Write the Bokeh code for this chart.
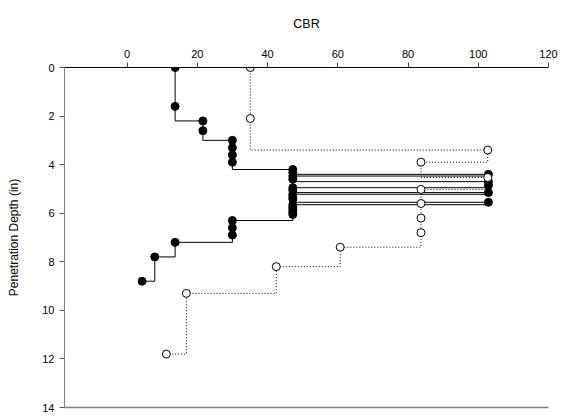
from bokeh.plotting import figure
from bokeh.models import Range1d, LinearAxis, FixedTicker
from bokeh.embed import file_html
from bokeh.resources import INLINE

# Solid series (filled markers): CBR vs penetration depth
cbr_solid = [13.7, 13.7, 21.6, 21.6, 30, 30, 30, 30, 47.2, 47.2, 102.9, 47.2, 47.2,
             102.9, 102.9, 47.2, 47.2, 102.9, 47.2, 47.2, 47.2, 102.9, 47.2, 47.2,
             47.2, 47.2, 47.2, 30, 30, 30, 13.7, 7.9, 4.3]
depth_solid = [0, 1.6, 2.2, 2.6, 3.0, 3.3, 3.6, 3.9, 4.2, 4.32, 4.4, 4.47, 4.6,
               4.7, 4.85, 4.95, 5.05, 5.15, 5.22, 5.32, 5.42, 5.55, 5.65, 5.75,
               5.85, 5.95, 6.05, 6.3, 6.6, 6.9, 7.2, 7.8, 8.8]

# Dotted series (open markers)
cbr_open = [35.1, 35.1, 102.7, 83.7, 102.7, 83.7, 83.7, 83.7, 83.7, 60.7, 42.5, 16.9, 11.2]
depth_open = [0, 2.1, 3.4, 3.9, 4.53, 5.02, 5.6, 6.2, 6.8, 7.4, 8.2, 9.3, 11.8]

x_ticks = [0, 20, 40, 60, 80, 100, 120]
y_ticks = [0, 2, 4, 6, 8, 10, 12, 14]


def step_path(xs, ys):
    px, py = [xs[0]], [ys[0]]
    for i in range(len(xs) - 1):
        px += [xs[i], xs[i + 1]]
        py += [ys[i + 1], ys[i + 1]]
    return px, py


FONT = "Liberation Sans"

p = figure(width=562, height=419, output_backend="svg", toolbar_location=None,
           x_axis_location="above",
           x_range=Range1d(-17.8, 120), y_range=Range1d(14, 0),
           min_border_left=64, min_border_right=14, min_border_top=67,
           min_border_bottom=12)
p.xgrid.visible = False
p.ygrid.visible = False
p.outline_line_color = None
p.background_fill_color = "white"
p.border_fill_color = "white"

# top axis
xa = p.xaxis[0]
xa.ticker = FixedTicker(ticks=x_ticks)
xa.axis_label = "CBR"
xa.axis_label_text_font = FONT
xa.axis_label_text_font_size = "12.5px"
xa.axis_label_text_font_style = "normal"
xa.axis_label_text_color = "black"
xa.axis_label_standoff = 16
xa.major_label_text_font = FONT
xa.major_label_text_font_size = "11px"
xa.major_label_text_color = "black"
xa.major_label_standoff = 5
xa.major_tick_in = 0
xa.major_tick_out = 5
xa.minor_tick_line_color = None
xa.axis_line_color = "black"
xa.major_tick_line_color = "#444444"

# left axis
ya = p.yaxis[0]
ya.ticker = FixedTicker(ticks=y_ticks)
ya.axis_label = "Penetration Depth (in)"
ya.axis_label_text_font = FONT
ya.axis_label_text_font_size = "12px"
ya.axis_label_text_font_style = "normal"
ya.axis_label_text_color = "black"
ya.axis_label_standoff = 18
ya.major_label_text_font = FONT
ya.major_label_text_font_size = "11px"
ya.major_label_text_color = "black"
ya.major_label_standoff = 5
ya.major_tick_in = 0
ya.major_tick_out = 5
ya.minor_tick_line_color = None
ya.axis_line_color = "#7f7f7f"
ya.major_tick_line_color = "#555555"

# bottom line
bax = LinearAxis(ticker=FixedTicker(ticks=[]), major_label_text_color=None,
                 major_tick_line_color=None, minor_tick_line_color=None,
                 axis_line_color="#7f7f7f", axis_line_width=1.5)
p.add_layout(bax, "below")

sx, sy = step_path(cbr_solid, depth_solid)
p.line(sx, sy, line_color="black", line_width=1)
p.scatter(cbr_solid, depth_solid, size=8, marker="circle", fill_color="black",
          line_color="black")

ox, oy = step_path(cbr_open, depth_open)
p.line(ox, oy, line_color="black", line_width=1, line_dash="1 2")
p.scatter(cbr_open, depth_open, size=8, marker="circle", fill_color="white",
          line_color="black", line_width=1)

open("out.html", "w").write(file_html(p, INLINE))
